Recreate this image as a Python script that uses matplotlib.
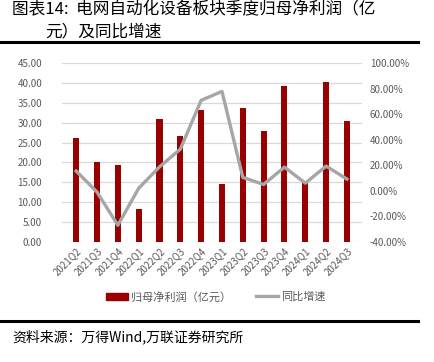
import numpy as np
import matplotlib.pyplot as plt
from matplotlib.lines import Line2D
from matplotlib.patches import Patch

plt.rcParams['font.family'] = ['Noto Sans CJK SC', 'DejaVu Sans']

quarters = ['2021Q2', '2021Q3', '2021Q4', '2022Q1', '2022Q2', '2022Q3', '2022Q4',
            '2023Q1', '2023Q2', '2023Q3', '2023Q4', '2024Q1', '2024Q2', '2024Q3']
profit = [26.1, 20.1, 19.4, 8.2, 30.9, 26.6, 33.2, 14.5, 33.8, 27.9, 39.2, 15.0, 40.3, 30.4]
growth = [15.5, -1.0, -27.0, 2.0, 18.8, 32.7, 71.0, 78.0, 10.5, 5.0, 18.6, 6.0, 19.4, 9.2]

fig = plt.figure(figsize=(4.34, 3.62), dpi=100)
ax = fig.add_axes([0.142, 0.332, 0.691, 0.493])
ax2 = ax.twinx()

x = np.arange(len(quarters))
ax.bar(x, profit, width=0.29, color='#990000', zorder=3)
ax2.plot(x, growth, color='#A6A6A6', lw=2.4, zorder=4)

ax.set_ylim(0, 45)
ax.set_yticks(np.arange(0, 46, 5))
ax.set_yticklabels([f'{v:.2f}' for v in np.arange(0, 46, 5)])
ax2.set_ylim(-40, 100)
ax2.set_yticks(np.arange(-40, 101, 20))
ax2.set_yticklabels([f'{v:.2f}%' for v in np.arange(-40, 101, 20)])
ax.set_xlim(-0.7, len(quarters) - 0.3)
ax.set_xticks(x)
ax.set_xticklabels(quarters, rotation=45, ha='right', rotation_mode='anchor')

ax.grid(axis='y', color='#D9D9D9', lw=0.9, zorder=0)
for a in (ax, ax2):
    for s in a.spines.values():
        s.set_visible(False)
    a.tick_params(length=0, labelsize=7, colors='#595959')
ax.tick_params(axis='y', pad=14)
ax.tick_params(axis='x', pad=3)
ax2.tick_params(axis='y', pad=6)
ax2.set_zorder(ax.get_zorder() + 1)
ax2.patch.set_visible(False)

handles = [Patch(color='#990000'), Line2D([], [], color='#A6A6A6', lw=2.4)]
fig.legend(handles, ['归母净利润（亿元）', '同比增速'], loc='center', bbox_to_anchor=(0.497, 0.18),
           ncol=2, frameon=False, fontsize=8, labelcolor='#595959',
           handlelength=2.0, handleheight=0.7, columnspacing=2.2, handletextpad=0.3)

fig.text(0.028, 0.972, '图表14:  电网自动化设备板块季度归母净利润（亿', fontsize=12, va='center')
fig.text(0.103, 0.912, '元）及同比增速', fontsize=12, va='center')
fig.add_artist(Line2D([0, 0.963], [0.884, 0.884], color='black', lw=2.2))
fig.add_artist(Line2D([0, 0.963], [0.112, 0.112], color='black', lw=2.2))
fig.text(0.028, 0.068, '资料来源：万得Wind,万联证券研究所', fontsize=10, style='italic', va='center')

fig.savefig('out.png', dpi=100)
